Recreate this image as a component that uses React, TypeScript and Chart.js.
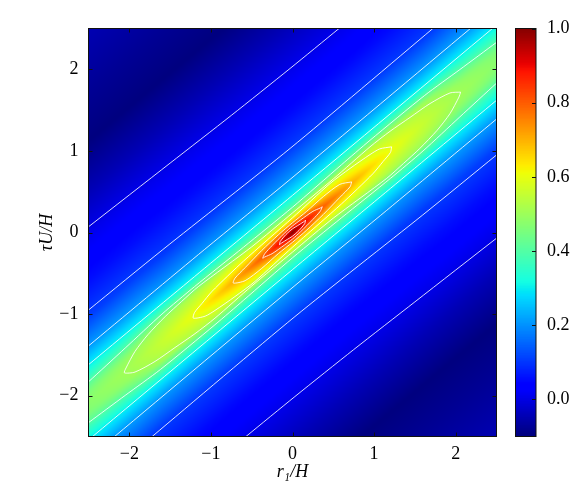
import React, { useEffect, useRef } from "react";
import { Chart, registerables } from "chart.js";
Chart.register(...registerables);

const SERIF = "'Liberation Serif', serif";
const axisTicks = [-2, -1, 0, 1, 2];
const colorbarTicks = [0, 0.2, 0.4, 0.6, 0.8, 1.0];
const ridgeSlope = 0.832;

// Field table: distance along the ridge (rows) and across it (columns)
const alongPositions = [0, 0.16, 0.36, 0.72, 1.2, 1.6, 1.9, 2.05, 2.5];
const acrossOffsets = [0, 0.05, 0.09, 0.135, 0.185, 0.24, 0.31, 0.455, 0.68, 1.05, 1.5, 2.05, 2.6, 3.2, 3.8, 4.6];
const fieldRow0 = [1.0, 0.9, 0.8, 0.68, 0.6, 0.51, 0.4, 0.3, 0.2, 0.1, 0.045, 0, -0.05, -0.1, -0.08, -0.05];
const fieldRow1 = [0.9, 0.83, 0.76, 0.67, 0.6, 0.51, 0.405, 0.3, 0.2, 0.1, 0.045, 0, -0.05, -0.1, -0.08, -0.05];
const fieldRow2 = [0.8, 0.75, 0.7, 0.645, 0.595, 0.525, 0.41, 0.3, 0.2, 0.1, 0.045, 0, -0.05, -0.1, -0.08, -0.05];
const fieldRow3 = [0.7, 0.67, 0.64, 0.615, 0.585, 0.53, 0.435, 0.305, 0.2, 0.1, 0.045, 0, -0.05, -0.1, -0.08, -0.05];
const fieldRow4 = [0.6, 0.59, 0.575, 0.56, 0.54, 0.52, 0.44, 0.305, 0.2, 0.1, 0.047, 0.002, -0.05, -0.1, -0.08, -0.05];
const fieldRow5 = [0.55, 0.545, 0.54, 0.53, 0.515, 0.5, 0.43, 0.305, 0.2, 0.1, 0.048, 0.003, -0.05, -0.1, -0.08, -0.05];
const fieldRow6 = [0.515, 0.51, 0.505, 0.5, 0.475, 0.45, 0.4, 0.3, 0.205, 0.105, 0.05, 0.005, -0.05, -0.1, -0.08, -0.05];
const fieldRow7 = [0.5, 0.495, 0.49, 0.48, 0.46, 0.43, 0.385, 0.3, 0.205, 0.105, 0.05, 0.005, -0.05, -0.1, -0.08, -0.05];
const fieldRow8 = [0.47, 0.465, 0.46, 0.45, 0.43, 0.405, 0.36, 0.295, 0.205, 0.105, 0.05, 0.005, -0.05, -0.1, -0.08, -0.05];
const fieldRows = [fieldRow0, fieldRow1, fieldRow2, fieldRow3, fieldRow4, fieldRow5, fieldRow6, fieldRow7, fieldRow8];

// Contour lines, as [x, y]
const c00a = [[-2.5, 0.07], [-1.5, 0.85], [-0.75, 1.435], [-0.03, 2.01], [0.57, 2.5]];
const c00b = [[2.5, -0.07], [1.5, -0.85], [0.75, -1.435], [0.03, -2.01], [-0.57, -2.5]];
const c10a = [[-2.5, -0.95], [-1.59, -0.21], [-0.03, 1.03], [1.72, 2.5]];
const c10b = [[2.5, 0.95], [1.59, 0.21], [0.03, -1.03], [-1.72, -2.5]];
const c20a = [[-2.5, -1.39], [-1.08, -0.21], [-0.03, 0.65], [2.18, 2.5]];
const c20b = [[2.5, 1.39], [1.08, 0.21], [0.03, -0.65], [-2.18, -2.5]];
const c30a = [[-2.5, -1.62], [-1.2, -0.54], [0, 0.455], [2.45, 2.5]];
const c30b = [[2.5, 1.62], [1.2, 0.54], [0, -0.455], [-2.45, -2.5]];
const c40a = [[-2.5, -1.83], [-2.05, -1.416], [-1.6, -1.0], [-1.2, -0.663], [-0.6, -0.18], [0, 0.31], [0.6, 0.83], [0.95, 1.13], [1.62, 1.68], [2.05, 1.996], [2.5, 2.33]];
const c40b = [[2.5, 1.83], [2.05, 1.416], [1.6, 1.0], [1.2, 0.663], [0.6, 0.18], [0, -0.31], [-0.6, -0.83], [-0.95, -1.13], [-1.62, -1.68], [-2.05, -1.996], [-2.5, -2.33]];
const c50 = [[2.06, 1.72], [2.04, 1.66], [1.93, 1.457], [1.77, 1.25], [1.56, 1.03], [1.36, 0.846], [1.154, 0.663], [0.5, 0.176], [0, -0.24], [-0.5, -0.656], [-0.95, -1.05], [-1.195, -1.24], [-1.44, -1.41], [-1.685, -1.58], [-1.93, -1.71], [-2.06, -1.72], [-2.04, -1.66], [-1.93, -1.457], [-1.77, -1.25], [-1.56, -1.03], [-1.36, -0.846], [-1.154, -0.663], [-0.5, -0.176], [0, 0.24], [0.5, 0.656], [0.95, 1.05], [1.195, 1.24], [1.44, 1.41], [1.685, 1.58], [1.93, 1.71], [2.06, 1.72]];
const c60 = [[1.215, 1.05], [1.2, 0.98], [1.11, 0.87], [0.985, 0.72], [0.6, 0.35], [0, -0.18], [-0.46, -0.6], [-0.705, -0.785], [-0.95, -0.955], [-1.07, -1.025], [-1.215, -1.05], [-1.2, -0.98], [-1.11, -0.87], [-0.985, -0.72], [-0.6, -0.35], [0, 0.18], [0.46, 0.6], [0.705, 0.785], [0.95, 0.955], [1.07, 1.025], [1.215, 1.05]];
const c70 = [[0.725, 0.62], [0.705, 0.56], [0.58, 0.43], [0.377, 0.22], [0.17, 0.025], [0, -0.12], [-0.174, -0.26], [-0.377, -0.44], [-0.58, -0.59], [-0.725, -0.62], [-0.705, -0.56], [-0.58, -0.43], [-0.377, -0.22], [-0.17, -0.025], [0, 0.12], [0.174, 0.26], [0.377, 0.44], [0.58, 0.59], [0.725, 0.62]];
const c80 = [[0.365, 0.315], [0.34, 0.26], [0.25, 0.16], [0.1, 0.01], [0, -0.08], [-0.1, -0.155], [-0.25, -0.26], [-0.34, -0.3], [-0.365, -0.315], [-0.34, -0.26], [-0.25, -0.16], [-0.1, -0.01], [0, 0.08], [0.1, 0.155], [0.25, 0.26], [0.34, 0.3], [0.365, 0.315]];
const c90 = [[0.16, 0.15], [0.15, 0.11], [0.08, 0.025], [0, -0.045], [-0.08, -0.095], [-0.15, -0.14], [-0.16, -0.15], [-0.15, -0.11], [-0.08, -0.025], [0, 0.045], [0.08, 0.095], [0.15, 0.14], [0.16, 0.15]];
const contours = [c00a, c00b, c10a, c10b, c20a, c20b, c30a, c30b, c40a, c40b, c50, c60, c70, c80, c90];

const VMIN = -0.1;
const VMAX = 1.0;

function piece(t: number, pts: number[][]) {
  for (let i = 1; i < pts.length; i++) {
    if (t <= pts[i][0]) {
      const [a, va] = pts[i - 1];
      const [b, vb] = pts[i];
      return va + ((t - a) / (b - a)) * (vb - va);
    }
  }
  return pts[pts.length - 1][1];
}
const JR = [[0, 0], [0.35, 0], [0.66, 1], [0.89, 1], [1, 0.5]];
const JG = [[0, 0], [0.125, 0], [0.375, 1], [0.64, 1], [0.91, 0], [1, 0]];
const JB = [[0, 0.5], [0.11, 1], [0.34, 1], [0.65, 0], [1, 0]];
function jet(v: number) {
  const t = Math.min(1, Math.max(0, (v - VMIN) / (VMAX - VMIN)));
  return [piece(t, JR) * 255, piece(t, JG) * 255, piece(t, JB) * 255];
}

function locate(arr: number[], v: number) {
  let i = 0;
  while (i < arr.length - 2 && v > arr[i + 1]) i++;
  const f = Math.min(1, Math.max(0, (v - arr[i]) / (arr[i + 1] - arr[i])));
  return [i, f];
}
function field(x: number, y: number) {
  const s = Math.abs(x);
  const d = Math.abs(y - ridgeSlope * x);
  const [i, fi] = locate(alongPositions, s);
  const [j, fj] = locate(acrossOffsets, d);
  const a = fieldRows[i][j] * (1 - fj) + fieldRows[i][j + 1] * fj;
  const b = fieldRows[i + 1][j] * (1 - fj) + fieldRows[i + 1][j + 1] * fj;
  return a * (1 - fi) + b * fi;
}

const heatPlugin = {
  id: "heat",
  beforeDatasetsDraw(chart: any) {
    const { ctx, chartArea: a, scales } = chart;
    const w = Math.round(a.right - a.left);
    const h = Math.round(a.bottom - a.top);
    const off = document.createElement("canvas");
    off.width = w;
    off.height = h;
    const oc = off.getContext("2d")!;
    const img = oc.createImageData(w, h);
    for (let py = 0; py < h; py++) {
      const y = scales.y.getValueForPixel(a.top + py + 0.5);
      for (let px = 0; px < w; px++) {
        const x = scales.x.getValueForPixel(a.left + px + 0.5);
        const [r, g, b] = jet(field(x, y));
        const k = (py * w + px) * 4;
        img.data[k] = r;
        img.data[k + 1] = g;
        img.data[k + 2] = b;
        img.data[k + 3] = 255;
      }
    }
    oc.putImageData(img, 0, 0);
    ctx.drawImage(off, a.left, a.top);
  },
};

const framePlugin = {
  id: "frame",
  afterDatasetsDraw(chart: any) {
    const { ctx, chartArea: a, scales } = chart;
    ctx.save();
    ctx.strokeStyle = "#111";
    ctx.lineWidth = 1;
    ctx.beginPath();
    const len = 4;
    if (scales.x && scales.x.type === "linear") {
      for (const t of axisTicks) {
        const p = Math.round(scales.x.getPixelForValue(t)) + 0.5;
        ctx.moveTo(p, a.bottom);
        ctx.lineTo(p, a.bottom - len);
        ctx.moveTo(p, a.top);
        ctx.lineTo(p, a.top + len);
        const q = Math.round(scales.y.getPixelForValue(t)) + 0.5;
        ctx.moveTo(a.left, q);
        ctx.lineTo(a.left + len, q);
        ctx.moveTo(a.right, q);
        ctx.lineTo(a.right - len, q);
      }
    } else {
      for (const t of colorbarTicks) {
        const q = Math.round(scales.y.getPixelForValue(t)) + 0.5;
        ctx.moveTo(a.right, q);
        ctx.lineTo(a.right - len, q);
      }
    }
    ctx.stroke();
    ctx.strokeRect(a.left, a.top, a.right - a.left, a.bottom - a.top);
    ctx.restore();
  },
};

const fmtAxis = (v: any) => String(v).replace("-", "\u2212");

export default function App() {
  const mainRef = useRef<HTMLCanvasElement>(null);
  const barRef = useRef<HTMLCanvasElement>(null);
  useEffect(() => {
    document.body.style.margin = "0";
    const tickFont = { family: SERIF, size: 18 };
    const titleFont = { family: SERIF, size: 18, style: "italic" as const };
    const main = new Chart(mainRef.current!, {
      type: "scatter",
      data: {
        datasets: contours.map((c) => ({
          data: c.map(([x, y]) => ({ x, y })),
          showLine: true,
          pointRadius: 0,
          borderColor: "rgba(255,255,255,0.85)",
          borderWidth: 1,
          tension: 0.25,
        })),
      },
      options: {
        animation: false,
        responsive: false,
        layout: { padding: { left: 0, right: 89.5, top: 28.5, bottom: 0 } },
        plugins: { legend: { display: false }, tooltip: { enabled: false } },
        scales: {
          x: {
            type: "linear",
            min: -2.5,
            max: 2.5,
            afterBuildTicks: (s: any) => { s.ticks = axisTicks.map((value) => ({ value })); },
            afterFit: (s: any) => { s.height = 66.5; },
            grid: { display: false },
            border: { display: false },
            ticks: { font: tickFont, color: "#000", padding: -1, maxRotation: 0, callback: fmtAxis },
            title: { display: true, text: "r\u2081/H", font: titleFont, color: "#000", padding: { top: 0, bottom: 20 } },
          },
          y: {
            type: "linear",
            min: -2.5,
            max: 2.5,
            afterBuildTicks: (s: any) => { s.ticks = axisTicks.map((value) => ({ value })); },
            afterFit: (s: any) => { s.width = 88.5; },
            grid: { display: false },
            border: { display: false },
            ticks: { font: tickFont, color: "#000", padding: 2, callback: fmtAxis },
            title: { display: true, text: "\u03c4U/H", font: titleFont, color: "#000", padding: { top: 36, bottom: 0 } },
          },
        },
      } as any,
      plugins: [heatPlugin, framePlugin],
    });

    const levels: number[] = [];
    for (let i = 0; i < 256; i++) levels.push(VMIN + (i / 256) * (VMAX - VMIN));
    const step = (VMAX - VMIN) / 256;
    const bar = new Chart(barRef.current!, {
      type: "bar",
      data: {
        labels: ["c"],
        datasets: levels.map((v) => {
          const [r, g, b] = jet(v + step / 2);
          return {
            data: [[v, v + 2 * step]],
            backgroundColor: `rgb(${r},${g},${b})`,
            borderWidth: 0,
            barPercentage: 1,
            categoryPercentage: 1,
            grouped: false,
          };
        }),
      } as any,
      options: {
        animation: false,
        responsive: false,
        layout: { padding: { left: 0.5, right: 0, top: 28.5, bottom: 66.5 } },
        plugins: { legend: { display: false }, tooltip: { enabled: false } },
        scales: {
          x: { display: false },
          y: {
            type: "linear",
            position: "right",
            min: VMIN,
            max: VMAX,
            afterBuildTicks: (s: any) => { s.ticks = colorbarTicks.map((value) => ({ value })); },
            afterFit: (s: any) => { s.width = 50; },
            grid: { display: false },
            border: { display: false },
            ticks: { font: tickFont, color: "#000", padding: 3, callback: (v: any) => Number(v).toFixed(1) },
          },
        },
      } as any,
      plugins: [framePlugin],
    });
    return () => {
      main.destroy();
      bar.destroy();
    };
  }, []);
  return (
    <div style={{ position: "relative", width: 586, height: 503 }}>
      <canvas ref={mainRef} width={586} height={503} style={{ position: "absolute", left: 0, top: 0 }} />
      <canvas ref={barRef} width={71} height={503} style={{ position: "absolute", left: 515, top: 0 }} />
    </div>
  );
}
